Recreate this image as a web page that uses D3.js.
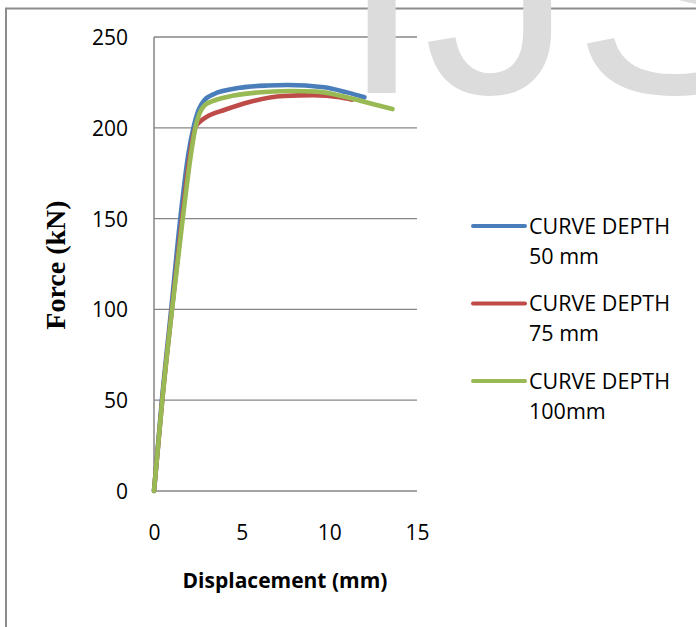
<!DOCTYPE html>
<html>
<head>
<meta charset="utf-8">
<script src="https://cdn.jsdelivr.net/npm/d3@7"></script>
<style>
  html, body { margin: 0; padding: 0; background: #fff; }
  svg { display: block; }
</style>
</head>
<body>
<svg id="chart" width="696" height="627"></svg>
<script>
// ---- data ----
const xTicks = [0, 5, 10, 15];
const yTicks = [0, 50, 100, 150, 200, 250];
const seriesNames = ["CURVE DEPTH 50 mm", "CURVE DEPTH 75 mm", "CURVE DEPTH 100mm"];
const legendLines = [["CURVE DEPTH", "50 mm"], ["CURVE DEPTH", "75 mm"], ["CURVE DEPTH", "100mm"]];
const seriesColors = ["#4a7ebb", "#be4b48", "#98b954"];

const disp50 = [0, 0.45, 0.98, 1.5, 1.95, 2.25, 2.55, 2.85, 3.4, 4.9, 6.5, 7.6, 9.7, 11.0, 12.0];
const force50 = [0, 50, 100, 150, 185, 200, 210, 215, 218.5, 222, 223.3, 223.6, 222.3, 219.5, 216.8];

const disp75 = [0, 0.47, 1.02, 1.6, 2.05, 2.35, 2.7, 3.0, 4.0, 5.5, 7.4, 9.1, 10.6, 11.3];
const force75 = [0, 50, 100, 150, 185, 200, 204, 206, 209.8, 214.4, 217.5, 218, 216.8, 215.5];

const disp100 = [0, 0.47, 1.03, 1.64, 2.1, 2.36, 2.6, 2.9, 3.3, 4.17, 5.87, 7.77, 9.3, 11.0, 12.3, 13.6];
const force100 = [0, 50, 100, 150, 185, 200, 208, 212.5, 214.5, 217, 219.4, 220.3, 219.9, 216.8, 213.5, 210.3];

const xLabel = "Displacement (mm)";
const yLabel = "Force (kN)";
const watermark = "IJS";

// ---- drawing ----
const svg = d3.select("#chart");
const x = d3.scaleLinear().domain([0, 15]).range([154, 417]);
const y = d3.scaleLinear().domain([0, 250]).range([491, 37]);

// outer frame
svg.append("path")
  .attr("d", "M6,640 L6,8.5 L700,8.5")
  .attr("fill", "none").attr("stroke", "#8c8c8c").attr("stroke-width", 2);

// gridlines
svg.append("g").selectAll("line").data(yTicks.filter(d => d > 0)).join("line")
  .attr("x1", x(0)).attr("x2", x(15))
  .attr("y1", d => y(d)).attr("y2", d => y(d))
  .attr("stroke", "#868686").attr("stroke-width", 1.3);

// axes lines
svg.append("line").attr("x1", x(0)).attr("x2", x(0)).attr("y1", y(250)).attr("y2", y(0))
  .attr("stroke", "#868686").attr("stroke-width", 1.5);
svg.append("line").attr("x1", x(0)).attr("x2", x(15)).attr("y1", y(0)).attr("y2", y(0))
  .attr("stroke", "#868686").attr("stroke-width", 1.5);

// y axis labels
const yAxis = d3.axisLeft(y).tickValues(yTicks).tickSize(0).tickPadding(26);
const gy = svg.append("g").attr("transform", `translate(${x(0)},0)`).call(yAxis);
gy.select(".domain").remove();
gy.selectAll("text").attr("font-family", "'Open Sans', sans-serif").attr("font-size", 21)
  .attr("fill", "#000").attr("dy", "0.36em");

// x axis labels
const xAxis = d3.axisBottom(x).tickValues(xTicks).tickSize(0).tickPadding(34);
const gx = svg.append("g").attr("transform", `translate(0,${y(0)})`).call(xAxis);
gx.select(".domain").remove();
gx.selectAll("text").attr("font-family", "'Open Sans', sans-serif").attr("font-size", 21)
  .attr("fill", "#000");

// axis titles
svg.append("text").attr("x", 285).attr("y", 588).attr("text-anchor", "middle")
  .attr("font-family", "'Open Sans', sans-serif").attr("font-weight", "bold").attr("font-size", 21)
  .attr("fill", "#000").text(xLabel);
svg.append("text").attr("transform", "translate(65,265) rotate(-90)").attr("text-anchor", "middle")
  .attr("font-family", "'Liberation Serif', serif").attr("font-weight", "bold").attr("font-size", 28)
  .attr("fill", "#000").text(yLabel);

// series
const seriesData = [
  disp50.map((d, i) => [d, force50[i]]),
  disp75.map((d, i) => [d, force75[i]]),
  disp100.map((d, i) => [d, force100[i]])
];
const line = d3.line().x(d => x(d[0])).y(d => y(d[1])).curve(d3.curveMonotoneX);
svg.append("g").selectAll("path").data(seriesData).join("path")
  .attr("d", line).attr("fill", "none")
  .attr("stroke", (d, i) => seriesColors[i]).attr("stroke-width", 4.6)
  .attr("stroke-linejoin", "round").attr("stroke-linecap", "round");

// legend
const lg = svg.append("g").selectAll("g").data(legendLines).join("g")
  .attr("transform", (d, i) => `translate(0,${226 + i * 77.5})`);
lg.append("line").attr("x1", 473).attr("x2", 525).attr("y1", 0).attr("y2", 0)
  .attr("stroke", (d, i) => seriesColors[i]).attr("stroke-width", 4).attr("stroke-linecap", "round");
lg.append("text").attr("x", 529).attr("y", 0)
  .attr("font-family", "'Open Sans', sans-serif").attr("font-size", 21.5).attr("fill", "#000")
  .selectAll("tspan").data(d => d).join("tspan")
  .attr("x", 529).attr("dy", (d, i) => i === 0 ? "0.36em" : "30px").text(d => d);

// watermark (cut off at the top edge, as in the reference)
svg.append("text").attr("x", 340).attr("y", 93)
  .attr("font-family", "'Liberation Sans', Arial, sans-serif").attr("font-size", 300)
  .attr("fill", "#dcdcdc").text(watermark);
</script>
</body>
</html>
